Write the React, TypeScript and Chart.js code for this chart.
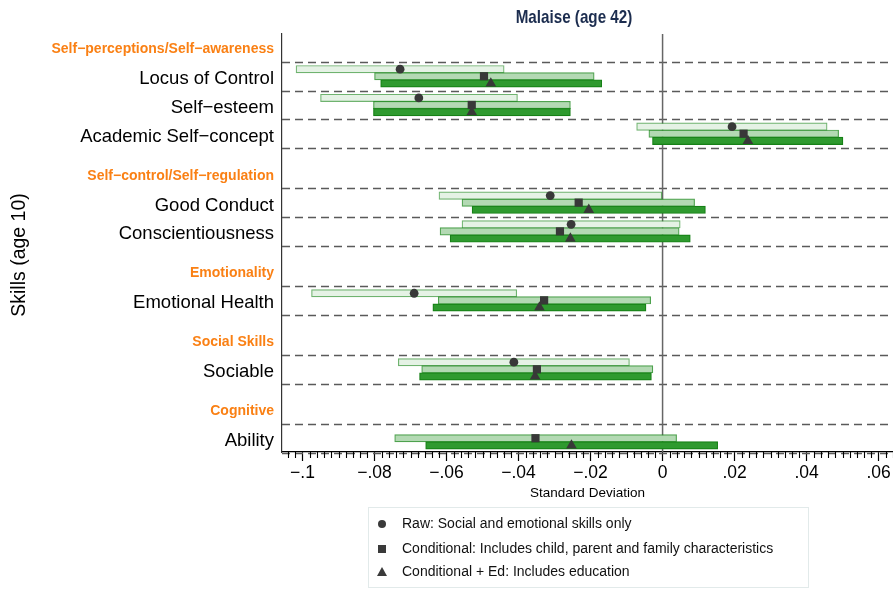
import React, { useEffect, useRef } from "react";
import { Chart, registerables } from "chart.js";

Chart.register(...registerables);

// ---------- data ----------
const chartTitle = "Malaise (age 42)";
const xAxisTitle = "Standard Deviation";
const yAxisTitle = "Skills (age 10)";

const groupNames = [
  "Self−perceptions/Self−awareness",
  "Self−control/Self−regulation",
  "Emotionality",
  "Social Skills",
  "Cognitive",
];
const skillNames = [
  "Locus of Control",
  "Self−esteem",
  "Academic Self−concept",
  "Good Conduct",
  "Conscientiousness",
  "Emotional Health",
  "Sociable",
  "Ability",
];
const skillGroup = [0, 0, 0, 1, 1, 2, 3, 4];

const rawPoint = [-0.0729, -0.0677, 0.0193, -0.0312, -0.0254, -0.069, -0.0413, null];
const rawLow = [-0.1018, -0.095, -0.0072, -0.0621, -0.0557, -0.0975, -0.0734, null];
const rawHigh = [-0.044, -0.0403, 0.0457, -0.0002, 0.0049, -0.0405, -0.0092, null];

const condPoint = [-0.0496, -0.053, 0.0225, -0.0233, -0.0285, -0.0329, -0.0349, -0.0353];
const condLow = [-0.08, -0.0803, -0.0038, -0.0557, -0.0618, -0.0623, -0.0669, -0.0744];
const condHigh = [-0.019, -0.0256, 0.0489, 0.0089, 0.0046, -0.0033, -0.0027, 0.0039];

const edPoint = [-0.0477, -0.053, 0.0237, -0.0205, -0.0256, -0.0342, -0.0354, -0.0253];
const edLow = [-0.0783, -0.0803, -0.0028, -0.0529, -0.059, -0.0638, -0.0675, -0.0658];
const edHigh = [-0.0169, -0.0256, 0.0501, 0.0119, 0.0077, -0.0046, -0.0031, 0.0153];

const xTickValues = [-0.1, -0.08, -0.06, -0.04, -0.02, 0, 0.02, 0.04, 0.06];
const xTickLabels = ["−.1", "−.08", "−.06", "−.04", "−.02", "0", ".02", ".04", ".06"];

const legendLabels = [
  "Raw: Social and emotional skills only",
  "Conditional: Includes child, parent and family characteristics",
  "Conditional + Ed: Includes education",
];

// ---------- layout (not data) ----------
const ROW_START = 1.47;
const GROUP_GAP = 1.4;
const HEADER_OFFSET = 0.93;
const LABEL_SHIFT = 0.1;
const X_MIN = -0.1057;
const X_MAX = 0.064;
const MINOR_STEP = 0.002;
const FONT = '"Liberation Sans", Arial, Helvetica, sans-serif';
const ORANGE = "rgb(250,128,20)";
const MARKER = "#383838";

const rowPos = (i: number) => ROW_START + i + GROUP_GAP * skillGroup[i];
const Y_MAX = rowPos(skillNames.length - 1) + 0.48;

// y ticks: headers + rows
const yTicks: { value: number; text: string; header: boolean }[] = [];
groupNames.forEach((g, gi) => {
  const first = skillGroup.indexOf(gi);
  yTicks.push({ value: rowPos(first) - HEADER_OFFSET, text: g, header: true });
});
skillNames.forEach((s, i) => yTicks.push({ value: rowPos(i) + LABEL_SHIFT, text: s, header: false }));

const series = [
  { low: rawLow, high: rawHigh, point: rawPoint, offset: -0.245, fill: "#e5f2e5", border: "rgba(34,139,34,0.65)", style: "circle", radius: 4.4 },
  { low: condLow, high: condHigh, point: condPoint, offset: 0.0, fill: "#b3d9b3", border: "rgba(34,139,34,0.8)", style: "rect", radius: 5.8 },
  { low: edLow, high: edHigh, point: edPoint, offset: 0.25, fill: "#2f9a2f", border: "#168016", style: "triangle", radius: 6.2 },
];

const datasets: any[] = [];
series.forEach((s) => {
  const bars: any[] = [];
  const pts: any[] = [];
  skillNames.forEach((_, i) => {
    if (s.low[i] == null || s.high[i] == null) return;
    bars.push({ x: [s.low[i], s.high[i]], y: rowPos(i) + s.offset });
    if (s.point[i] != null) pts.push({ x: s.point[i], y: rowPos(i) + s.offset });
  });
  datasets.push({
    type: "bar",
    indexAxis: "y",
    data: bars,
    backgroundColor: s.fill,
    borderColor: s.border,
    borderWidth: 1.2,
    borderSkipped: false,
    barThickness: 7.4,
    grouped: false,
    xAxisID: "x",
    yAxisID: "y",
    order: 2,
  });
  datasets.push({
    type: "scatter",
    data: pts,
    pointStyle: s.style,
    pointRadius: s.radius,
    pointBackgroundColor: MARKER,
    pointBorderColor: MARKER,
    pointBorderWidth: 0,
    showLine: false,
    xAxisID: "x",
    yAxisID: "y",
    order: 1,
  });
});

const decor = {
  id: "decor",
  beforeDatasetsDraw(chart: any) {
    const { ctx, chartArea: a, scales } = chart;
    const x = scales.x;
    const y = scales.y;
    ctx.save();
    const seen = new Set<string>();
    ctx.setLineDash([8, 5]);
    ctx.strokeStyle = "#5a5a5a";
    ctx.lineWidth = 1.3;
    skillNames.forEach((_, i) => {
      [rowPos(i) - 0.5, rowPos(i) + 0.5].forEach((v) => {
        const k = v.toFixed(3);
        if (seen.has(k)) return;
        seen.add(k);
        const py = Math.round(y.getPixelForValue(v)) + 0.5;
        ctx.beginPath();
        ctx.moveTo(a.left, py);
        ctx.lineTo(a.right, py);
        ctx.stroke();
      });
    });
    ctx.setLineDash([]);
    ctx.strokeStyle = "#666";
    ctx.lineWidth = 1.5;
    const zx = x.getPixelForValue(0);
    ctx.beginPath();
    ctx.moveTo(zx, a.top);
    ctx.lineTo(zx, a.bottom);
    ctx.stroke();
    ctx.restore();
  },
  afterDraw(chart: any) {
    const { ctx, chartArea: a, scales } = chart;
    const x = scales.x;
    ctx.save();
    // minor ticks
    ctx.strokeStyle = "#000";
    ctx.lineWidth = 1.1;
    const kStart = Math.ceil(X_MIN / MINOR_STEP);
    const kEnd = Math.floor(X_MAX / MINOR_STEP);
    for (let k = kStart; k <= kEnd; k++) {
      if (k % 10 === 0) continue;
      const px = Math.round(x.getPixelForValue(k * MINOR_STEP)) + 0.5;
      ctx.beginPath();
      ctx.moveTo(px, a.bottom);
      ctx.lineTo(px, a.bottom + 6);
      ctx.stroke();
    }
    // title (horizontally condensed)
    ctx.save();
    ctx.fillStyle = "#1c2d4f";
    ctx.font = "bold 19px " + FONT;
    ctx.textAlign = "center";
    ctx.textBaseline = "middle";
    ctx.translate(574, 18);
    ctx.scale(0.8, 1);
    ctx.fillText(chartTitle, 0, 0);
    ctx.restore();
    // x title
    ctx.fillStyle = "#000";
    ctx.font = "13.5px " + FONT;
    ctx.textAlign = "center";
    ctx.textBaseline = "middle";
    ctx.fillText(xAxisTitle, (a.left + a.right) / 2, 493);
    // y title
    ctx.save();
    ctx.translate(20, 255);
    ctx.rotate(-Math.PI / 2);
    ctx.font = "19.5px " + FONT;
    ctx.fillText(yAxisTitle, 0, 0);
    ctx.restore();
    // legend
    ctx.fillStyle = "#fff";
    ctx.fillRect(368, 507, 440, 80);
    ctx.strokeStyle = "#e2eaea";
    ctx.lineWidth = 1;
    ctx.strokeRect(368.5, 507.5, 440, 80);
    const rows = [524, 549, 572];
    const mx = 382;
    legendLabels.forEach((t, i) => {
      const my = rows[i];
      ctx.fillStyle = "#3a3a3a";
      ctx.beginPath();
      if (i === 0) {
        ctx.arc(mx, my, 4, 0, Math.PI * 2);
      } else if (i === 1) {
        ctx.rect(mx - 4, my - 4, 8, 8);
      } else {
        ctx.moveTo(mx, my - 5);
        ctx.lineTo(mx + 5, my + 4);
        ctx.lineTo(mx - 5, my + 4);
        ctx.closePath();
      }
      ctx.fill();
      ctx.fillStyle = "#111";
      ctx.font = "14px " + FONT;
      ctx.textAlign = "left";
      ctx.textBaseline = "middle";
      ctx.fillText(t, 402, my);
    });
    ctx.restore();
  },
};

export default function App() {
  const ref = useRef<HTMLCanvasElement>(null);
  useEffect(() => {
    document.body.style.margin = "0";
    const chart = new Chart(ref.current as HTMLCanvasElement, {
      type: "bar",
      data: { datasets },
      options: {
        animation: false,
        responsive: false,
        devicePixelRatio: 1,
        layout: { padding: { top: 34, left: 0, right: 0, bottom: 0 }, autoPadding: false } as any,
        plugins: { legend: { display: false }, tooltip: { enabled: false }, title: { display: false } },
        scales: {
          x: {
            type: "linear",
            position: "bottom",
            offset: false,
            min: X_MIN,
            max: X_MAX,
            afterBuildTicks: (s: any) => {
              s.ticks = xTickValues.map((v) => ({ value: v }));
            },
            afterFit: (s: any) => {
              s.height = 137;
            },
            ticks: {
              autoSkip: false,
              maxRotation: 0,
              padding: 2,
              color: "#000",
              font: { family: FONT, size: 17.5 },
              callback: (_v: any, i: number) => xTickLabels[i],
            },
            grid: { display: true, offset: false, drawOnChartArea: false, drawTicks: true, tickLength: 9, tickColor: "#000", tickWidth: 1.2 },
            border: { display: true, color: "#000", width: 1.2 },
          },
          y: {
            type: "linear",
            position: "left",
            offset: false,
            reverse: true,
            min: 0,
            max: Y_MAX,
            afterBuildTicks: (s: any) => {
              s.ticks = yTicks.map((t) => ({ value: t.value }));
            },
            afterFit: (s: any) => {
              s.width = 282;
            },
            ticks: {
              autoSkip: false,
              padding: 8,
              callback: (_v: any, i: number) => yTicks[i].text,
              color: (c: any) => (yTicks[c.index] && yTicks[c.index].header ? ORANGE : "#000"),
              font: (c: any) =>
                yTicks[c.index] && yTicks[c.index].header
                  ? { family: FONT, size: 14, weight: "bold" }
                  : { family: FONT, size: 18.5 },
            },
            grid: { display: false, drawTicks: false, offset: false },
            border: { display: true, color: "#333", width: 1.2 },
          },
        },
      },
      plugins: [decor],
    } as any);
    return () => chart.destroy();
  }, []);
  return (
    <div style={{ width: 893, height: 589 }}>
      <canvas ref={ref} width={893} height={589} style={{ display: "block" }} />
    </div>
  );
}
